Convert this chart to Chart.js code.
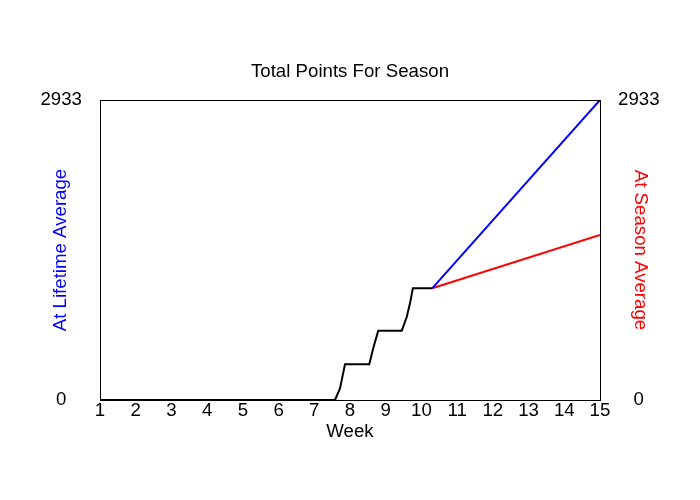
<!DOCTYPE html>
<html>
<head>
<meta charset="utf-8">
<script src="https://cdn.jsdelivr.net/npm/chart.js@4/dist/chart.umd.min.js"></script>
<style>
  html, body { margin: 0; padding: 0; background: #fff; }
  #wrap { width: 700px; height: 500px; position: relative; }
</style>
</head>
<body>
<div id="wrap"><canvas id="c"></canvas></div>
<script>
// ---- data ----
const actualWeeks  = [1, 7.58, 7.72, 7.86, 8.54, 8.65, 8.79, 9.45, 9.59, 9.68, 9.76, 10.30];
const actualPoints = [0, 0, 114, 349, 349, 505, 678, 678, 814, 945, 1092, 1092];
const lifetimeWeeks  = [10.30, 15];
const lifetimePoints = [1092, 2933];
const seasonWeeks  = [10.30, 15];
const seasonPoints = [1092, 1613];
const yTickValues = [0, 2933];
const weekMin = 1, weekMax = 15;

const toXY = (xs, ys) => xs.map((x, i) => ({ x: x, y: ys[i] }));
const FONT = "'Liberation Sans', Arial, sans-serif";
const fsz = 18.67;
Chart.defaults.color = '#000';
Chart.defaults.font.family = FONT;

const framePlugin = {
  id: 'frame',
  afterDatasetsDraw(chart) {
    const a = chart.chartArea, ctx = chart.ctx;
    ctx.save();
    ctx.strokeStyle = '#000';
    ctx.lineWidth = 1;
    ctx.strokeRect(Math.round(a.left) + 0.5, Math.round(a.top) + 0.5,
                   Math.round(a.right - a.left), Math.round(a.bottom - a.top));
    ctx.restore();
  }
};

const yTicksFn = (scale) => { scale.ticks = yTickValues.map(v => ({ value: v })); };
const plainLabel = (v) => String(v);

new Chart(document.getElementById('c'), {
  type: 'line',
  data: {
    datasets: [
      { label: 'At Lifetime Average', data: toXY(lifetimeWeeks, lifetimePoints),
        borderColor: '#0000ff', borderWidth: 2, pointRadius: 0, tension: 0, yAxisID: 'y' },
      { label: 'At Season Average', data: toXY(seasonWeeks, seasonPoints),
        borderColor: '#ff0000', borderWidth: 2, pointRadius: 0, tension: 0, yAxisID: 'y' },
      { label: 'Actual', data: toXY(actualWeeks, actualPoints),
        borderColor: '#000000', borderWidth: 2, pointRadius: 0, tension: 0, yAxisID: 'y' }
    ]
  },
  options: {
    responsive: true,
    maintainAspectRatio: false,
    animation: false,
    layout: { padding: 0 },
    plugins: {
      legend: { display: false },
      tooltip: { enabled: false },
      title: {
        display: true,
        text: 'Total Points For Season',
        color: '#000',
        font: { size: fsz, weight: 'normal', family: FONT },
        padding: { top: 61, bottom: 16.6 }
      }
    },
    scales: {
      x: {
        type: 'linear',
        position: 'bottom',
        min: weekMin, max: weekMax,
        grid: { display: false, drawTicks: false },
        border: { display: false },
        ticks: { stepSize: 1, padding: 0, font: { size: fsz }, color: '#000', maxRotation: 0, autoSkip: false, callback: plainLabel },
        title: { display: true, text: 'Week', color: '#000', font: { size: fsz }, padding: { top: 0, bottom: 56.8 } },
        afterFit(s) { s.height = 100; }
      },
      y: {
        type: 'linear',
        position: 'left',
        min: 0, max: 2933,
        grid: { display: false, drawTicks: false },
        border: { display: false },
        afterBuildTicks: yTicksFn,
        ticks: { padding: 18, crossAlign: 'center', font: { size: fsz }, color: '#000', callback: plainLabel },
        title: { display: true, text: 'At Lifetime Average', color: '#0000ff', font: { size: fsz }, padding: { top: 49.8, bottom: 0 } },
        afterFit(s) { s.width = 100; }
      },
      y2: {
        type: 'linear',
        position: 'right',
        min: 0, max: 2933,
        grid: { display: false, drawTicks: false },
        border: { display: false },
        afterBuildTicks: yTicksFn,
        ticks: { padding: 18, crossAlign: 'center', font: { size: fsz }, color: '#000', callback: plainLabel },
        title: { display: true, text: 'At Season Average', color: '#ff0000', font: { size: fsz }, padding: { top: 48.8, bottom: 0 } },
        afterFit(s) { s.width = 100; }
      }
    }
  },
  plugins: [framePlugin]
});
</script>
</body>
</html>
